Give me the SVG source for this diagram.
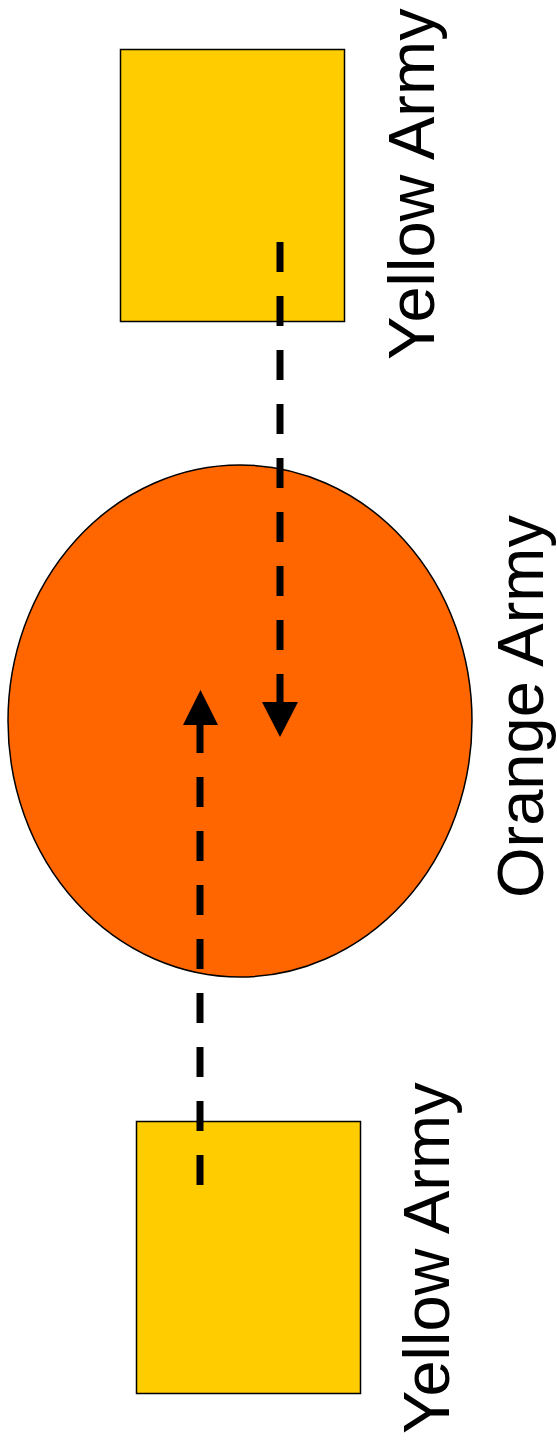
<svg xmlns="http://www.w3.org/2000/svg" width="557" height="1450" viewBox="0 0 557 1450">
<style>
.army{stroke:#000;stroke-width:1.5}
.yellow{fill:#FFCC00}
.orange{fill:#FF6600}
.lbl{font-family:"Liberation Sans",Arial,sans-serif;font-size:65px;fill:#000}
.conn{stroke:#000;stroke-width:7;fill:none;stroke-dasharray:30 24}
</style>
<rect x="0" y="0" width="557" height="1450" fill="#fff"/>
<g id="yellow-top">
<rect class="army yellow" x="120.5" y="49.5" width="224" height="272"/>
<text class="lbl" transform="translate(434,360) rotate(-90)">Yellow Army</text>
</g>
<g id="orange">
<ellipse class="army orange" cx="240" cy="721" rx="232" ry="256"/>
<text class="lbl" transform="translate(543,898) rotate(-90)">Orange Army</text>
</g>
<g id="yellow-bottom">
<rect class="army yellow" x="136.5" y="1121.5" width="224" height="272"/>
<text class="lbl" transform="translate(449,1434) rotate(-90)">Yellow Army</text>
</g>
<g id="connectors">
<path class="conn" d="M280,242 L280,702"/>
<path d="M262,702 L298,702 L280,737 Z" fill="#000"/>
<path class="conn" d="M200,1185 L200,725"/>
<path d="M183,725 L218,725 L200.5,690 Z" fill="#000"/>
</g>
</svg>
